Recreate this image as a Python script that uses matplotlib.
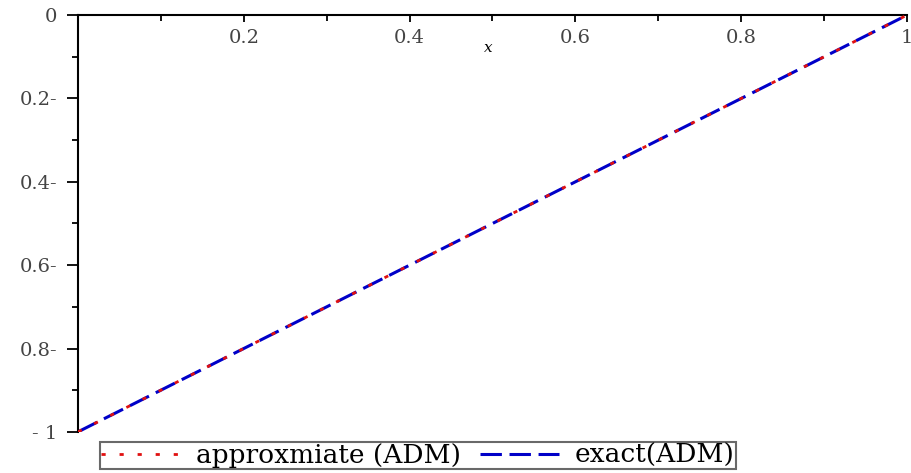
import matplotlib.pyplot as plt
from matplotlib.ticker import MultipleLocator

# datos
x_vals = [0.0, 0.25, 0.5, 0.75, 1.0]
aprox_adm = [-1.0, -0.75, -0.5, -0.25, 0.0]
exacta_adm = [-1.0, -0.75, -0.5, -0.25, 0.0]

x_ticks = [0.2, 0.4, 0.6, 0.8, 1.0]
x_labels = ["0.2", "0.4", "0.6", "0.8", "1"]
y_ticks = [0.0, -0.2, -0.4, -0.6, -0.8, -1.0]
y_labels = ["0", "0.2-", "0.4-", "0.6-", "0.8-", "- 1"]

plt.rcParams['font.family'] = ['DejaVu Serif']

fig = plt.figure(figsize=(9.12, 4.73), dpi=100)
ax = fig.add_axes([0.0855, 0.087, 0.909, 0.881])

ax.plot(x_vals, exacta_adm, color='#0000c8', lw=2.2, dashes=(7, 2.5), label='exact(ADM)', zorder=2)
ax.plot(x_vals, aprox_adm, color='#e01010', lw=2, dashes=(1.5, 5), label='approxmiate (ADM)', zorder=3)

ax.set_xlim(0, 1)
ax.set_ylim(-1, 0)

# ejes estilo maple: eje x arriba, y a la izquierda
ax.spines['right'].set_visible(False)
ax.spines['bottom'].set_visible(False)
ax.spines['top'].set_linewidth(1.5)
ax.spines['left'].set_linewidth(1.5)
ax.xaxis.tick_top()
ax.xaxis.set_label_position('top')

ax.set_xticks(x_ticks)
ax.set_xticklabels(x_labels)
ax.xaxis.set_minor_locator(MultipleLocator(0.1))
ax.tick_params(axis='x', which='major', direction='in', length=5, width=1.3,
               pad=-23, labelsize=14, labelcolor='#444444')
ax.tick_params(axis='x', which='minor', direction='in', length=4, width=1.3)
ax.set_yticks(y_ticks)
ax.set_yticklabels(y_labels)
ax.yaxis.set_minor_locator(MultipleLocator(0.1))
ax.tick_params(axis='y', which='major', direction='out', length=8, width=1.3,
               pad=7, labelsize=14, labelcolor='#444444')
ax.tick_params(axis='y', which='minor', direction='out', length=4.5, width=1.3)

ax.text(0.495, -0.08, 'x', style='italic', fontsize=11, ha='center', va='center')

handles, labels = ax.get_legend_handles_labels()
leg = fig.legend(handles[::-1], labels[::-1], loc='lower left', bbox_to_anchor=(0.095, -0.02),
                 ncol=2, fontsize=19, frameon=True, fancybox=False, edgecolor='#444444',
                 handlelength=3.0, borderpad=0.05, columnspacing=0.7, handletextpad=0.6)
leg.get_frame().set_linewidth(1.5)

fig.savefig('out.png', dpi=100)
